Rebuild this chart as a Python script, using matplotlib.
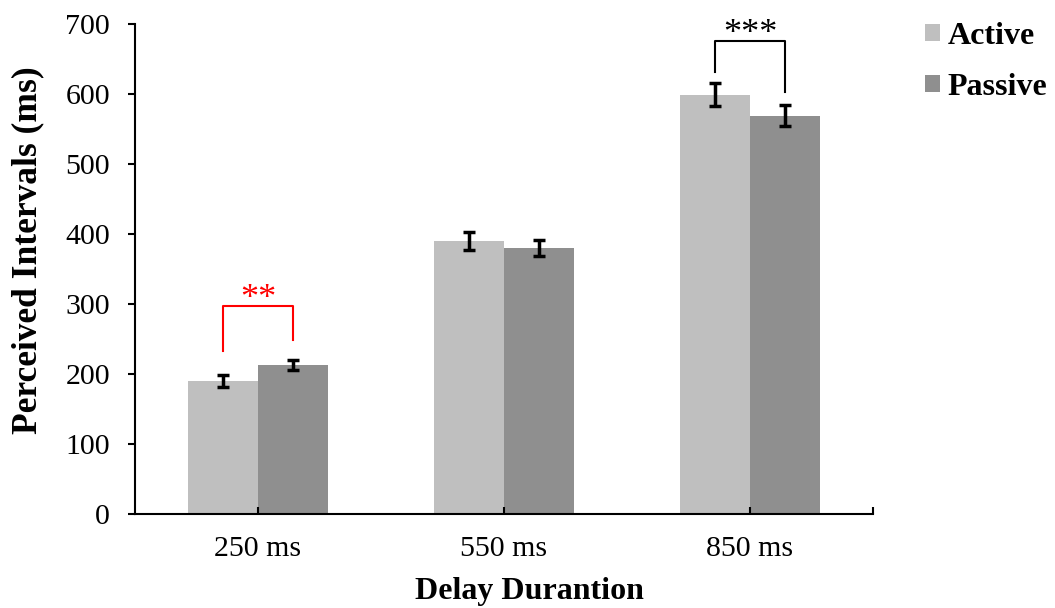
import matplotlib.pyplot as plt
import numpy as np

plt.rcParams["font.family"] = ["Liberation Serif", "DejaVu Serif"]

categories = ["250 ms", "550 ms", "850 ms"]
active = [190, 390, 599]
passive = [213, 380, 569]
active_err = [8, 13, 16]
passive_err = [7, 11, 15]

# significance brackets: (category, top, left bottom, right bottom, label, colour)
brackets = [
    (0, 297, 233, 249, "**", "red"),
    (2, 676, 631, 603, "***", "black"),
]

active_color = "#BFBFBF"
passive_color = "#8F8F8F"

fig = plt.figure(figsize=(10.55, 6.08), dpi=100)
ax = fig.add_axes([0.128, 0.1546, 0.6995, 0.806])

x = np.arange(len(categories))
w = 0.285
err_kw = dict(ecolor="black", elinewidth=2.5, capsize=4.5, capthick=2.5)
ax.bar(x - w / 2, active, w, color=active_color, yerr=active_err, error_kw=err_kw, label="Active")
ax.bar(x + w / 2, passive, w, color=passive_color, yerr=passive_err, error_kw=err_kw, label="Passive")

for cat, top, lb, rb, label, col in brackets:
    ax.plot([cat - w / 2, cat - w / 2, cat + w / 2, cat + w / 2], [lb, top, top, rb], color=col, lw=1.5)
    ax.text(cat, top - 14, label, color=col, ha="center", va="bottom", fontsize=26)

ax.set_xlim(-0.5, 2.5)
ax.set_ylim(0, 700)
ax.set_yticks(range(0, 701, 100))
ax.set_xticks([0, 1, 2, 2.5])
ax.set_xticklabels(categories + [""])
ax.tick_params(axis="x", direction="in", length=5, width=1.5, labelsize=21.5, pad=16)
ax.tick_params(axis="y", direction="out", length=5, width=1.5, labelsize=21.5, pad=13)
for s in ["top", "right"]:
    ax.spines[s].set_visible(False)
for s in ["left", "bottom"]:
    ax.spines[s].set_linewidth(1.5)

fig.text(28 / 1055, 1 - 250 / 608, "Perceived Intervals (ms)", rotation=90, ha="center", va="center",
         fontsize=25.5, fontweight="bold")
fig.text(529 / 1055, 1 - 592 / 608, "Delay Durantion", ha="center", va="center",
         fontsize=23, fontweight="bold")

leg = fig.legend(loc="upper left", bbox_to_anchor=(925 / 1055, 1 - 22 / 608), frameon=False,
                 borderpad=0, borderaxespad=0,
                 prop={"weight": "bold", "size": 23}, handlelength=0.46, handleheight=0.46,
                 handletextpad=0.25, labelspacing=0.68)

fig.savefig("out.png", dpi=100)
